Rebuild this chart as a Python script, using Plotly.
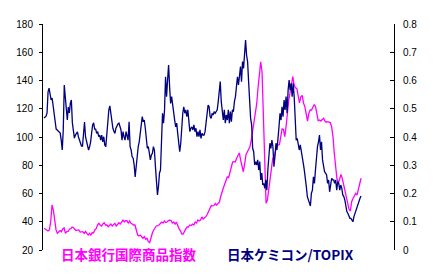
import numpy as np
import plotly.graph_objects as go

# 日本ケミコン/TOPIX ratio (right axis)
chemicon_topix = [
    0.467,0.471,0.474,0.485,0.560,0.573,0.545,0.531,0.538,0.510,
    0.480,0.440,0.428,0.425,0.421,0.418,0.414,0.389,0.354,0.425,
    0.584,0.542,0.480,0.460,0.506,0.485,0.520,0.531,0.450,0.425,
    0.396,0.407,0.412,0.418,0.400,0.390,0.382,0.368,0.368,0.425,
    0.453,0.400,0.385,0.379,0.354,0.365,0.382,0.414,0.443,0.450,
    0.428,0.428,
    0.413,0.419,0.401,0.407,0.389,0.407,0.383,0.401,0.372,0.366,
    0.419,0.460,0.496,0.510,0.478,0.449,0.431,0.420,0.413,0.431,
    0.443,0.446,0.449,0.436,0.425,0.389,0.419,0.401,0.389,0.419,
    0.407,0.389,0.454,0.366,0.354,0.330,0.325,0.301,0.259,0.307,
    0.330,0.366,0.383,0.413,0.454,0.472,0.454,0.460,0.431,0.401,
    0.360,0.366,
    0.342,0.319,0.336,0.342,0.366,0.354,0.295,0.236,0.195,0.224,
    0.272,0.283,0.378,0.484,0.449,0.496,0.613,0.543,0.602,0.655,
    0.578,0.519,0.543,0.507,0.484,0.460,0.436,0.449,0.413,0.383,
    0.348,0.378,0.436,0.484,0.507,0.484,0.496,0.472,0.496,0.460,
    0.419,0.431,0.436,0.425,0.443,0.419,0.431,0.401,0.419,0.401,
    0.425,0.395,0.413,
    0.407,0.407,0.419,0.454,0.478,0.513,0.507,0.472,0.466,0.484,
    0.478,0.490,0.484,0.490,0.496,0.525,0.566,0.596,0.525,0.478,
    0.460,0.496,0.449,0.478,0.460,0.496,0.449,0.490,0.454,0.496,
    0.490,0.525,0.543,0.578,0.613,0.584,0.613,0.649,0.596,0.667,
    0.643,0.714,0.743,0.690,0.667,0.596,0.525,0.466,0.443,0.360,
    0.348,0.301,0.313,
    0.301,0.319,0.283,0.313,0.248,0.272,0.230,0.236,0.218,0.248,
    0.212,0.283,0.354,0.378,0.360,0.389,0.366,0.295,0.330,0.378,
    0.354,0.413,0.436,0.484,0.460,0.507,0.472,0.531,0.496,0.543,
    0.484,0.566,0.602,0.566,0.590,0.543,0.590,0.543,0.472,0.389,
    0.395,0.378,0.354,0.372,0.354,0.330,0.307,0.283,0.259,0.224,
    0.189,0.177,0.159,
    0.156,0.201,0.212,0.259,0.236,0.283,0.330,0.366,0.383,0.407,
    0.354,0.383,0.319,0.295,0.277,0.272,0.266,0.236,0.248,0.206,
    0.236,0.254,0.248,0.248,0.236,0.248,0.212,0.242,0.236,0.212,
    0.230,0.218,0.195,0.189,0.177,0.153,0.136,0.130,0.118,0.112,
    0.112,0.106,0.100,0.118,0.130,0.136,0.153,0.159,0.171,0.183,
    0.191,
]

# 日本銀行国際商品指数 (left axis)
boj_commodity = [
    35.4,34.7,34.2,33.5,34.2,40.0,51.9,48.3,41.2,34.2,
    31.8,33.0,33.7,33.0,34.9,35.6,31.8,33.0,33.2,34.7,
    35.1,36.3,35.8,34.7,33.8,34.0,34.2,32.7,32.7,33.0,
    31.8,33.2,31.8,30.6,31.8,30.6,32.3,32.0,34.2,35.1,
    37.7,38.9,37.7,37.0,38.4,39.3,37.7,37.7,36.5,37.7,
    38.4,37.0,37.7,38.9,37.0,38.4,39.3,38.4,40.0,41.2,
    40.0,40.7,40.7,38.9,40.5,38.9,38.4,37.7,37.7,34.2,
    30.6,29.9,30.6,29.4,28.3,29.4,27.6,28.3,25.9,25.2,
    29.2,32.0,34.2,35.6,37.0,37.3,37.7,38.8,39.8,39.1,
    40.5,39.5,39.8,40.9,41.2,40.9,39.1,39.8,38.4,39.8,
    37.0,34.9,33.5,31.3,31.3,33.5,34.9,36.3,36.3,37.7,
    37.3,38.4,37.7,39.8,39.1,41.2,40.5,41.2,43.4,42.0,
    42.7,
    43.6,45.1,47.6,49.7,51.5,51.2,51.5,52.9,51.9,52.9,
    53.6,57.5,61.8,63.7,66.4,69.9,71.7,71.3,75.4,79.5,
    82.3,82.6,82.3,84.9,86.9,88.7,83.7,78.4,75.4,80.9,
    87.6,89.4,91.2,93.3,98.2,105.3,112.7,119.1,123.4,134.7,
    144.6,153.3,146.0,112.0,72.4,53.1,55.4,62.5,69.6,77.7,
    84.9,85.8,89.4,93.6,94.3,94.7,100.2,105.7,105.3,100.2,
    107.8,119.1,126.2,131.9,136.8,142.7,136.8,134.7,134.5,129.0,
    124.1,128.5,129.4,124.1,121.5,116.3,111.3,116.8,119.1,119.1,
    120.9,123.0,121.5,116.4,111.5,112.0,111.3,112.4,113.2,111.3,
    110.4,110.8,110.6,110.2,107.3,100.7,88.7,79.0,70.3,67.1,
    69.6,73.5,70.6,66.0,63.9,58.9,54.2,49.0,47.6,54.2,
    56.5,58.2,60.1,58.9,63.2,67.2,70.8,
]

left_ticks = [20, 40, 60, 80, 100, 120, 140, 160, 180]
right_ticks = [0, 0.1, 0.2, 0.3, 0.4, 0.5, 0.6, 0.7, 0.8]
right_ticktext = ["0", "0.1", "0.2", "0.3", "0.4", "0.5", "0.6", "0.7", "0.8"]

label_boj = "日本銀行国際商品指数"
label_chemicon = "日本ケミコン/TOPIX"

t_navy = np.linspace(0, 1, len(chemicon_topix))
t_mag = np.linspace(0, 1, len(boj_commodity))

fig = go.Figure()
fig.add_trace(go.Scatter(x=t_mag, y=boj_commodity, mode="lines",
                         line=dict(color="#FF00FF", width=1.3), yaxis="y",
                         showlegend=False, name=label_boj))
fig.add_trace(go.Scatter(x=t_navy, y=chemicon_topix, mode="lines",
                         line=dict(color="#000080", width=1.3), yaxis="y2",
                         showlegend=False, name=label_chemicon))

tickfont = dict(family="Liberation Sans, Arial, sans-serif", size=10, color="#000000")

fig.update_layout(
    width=433, height=274,
    margin=dict(l=43, r=39, t=24, b=24, pad=0),
    paper_bgcolor="#FFFFFF", plot_bgcolor="#FFFFFF",
    showlegend=False,
    xaxis=dict(range=[-0.0032, 1.104], showgrid=False, zeroline=False,
               showticklabels=False, showline=False, ticks=""),
    yaxis=dict(range=[20, 180], tickvals=left_ticks, showgrid=False, zeroline=False,
               showline=True, linecolor="#000000", linewidth=1,
               ticks="outside", ticklen=3, tickcolor="#000000", tickwidth=1,
               tickfont=tickfont, ticklabelstandoff=4),
    yaxis2=dict(range=[0, 0.8], tickvals=right_ticks, ticktext=right_ticktext,
                overlaying="y", side="right", showgrid=False, zeroline=False,
                showline=True, linecolor="#000000", linewidth=1,
                ticks="inside", ticklen=4, tickcolor="#000000", tickwidth=1,
                tickfont=tickfont, ticklabelstandoff=6),
    annotations=[
        dict(text="<b>" + label_boj + "</b>", xref="paper", yref="paper",
             x=0.245, y=-0.018, xanchor="center", yanchor="middle", showarrow=False,
             font=dict(family="Noto Sans CJK JP", size=13.5, color="#FF00FF")),
        dict(text="<b>" + label_chemicon + "</b>", xref="paper", yref="paper",
             x=0.706, y=-0.018, xanchor="center", yanchor="middle", showarrow=False,
             font=dict(family="Noto Sans CJK JP", size=13.5, color="#000080")),
    ],
)

fig.write_html("out.html")
